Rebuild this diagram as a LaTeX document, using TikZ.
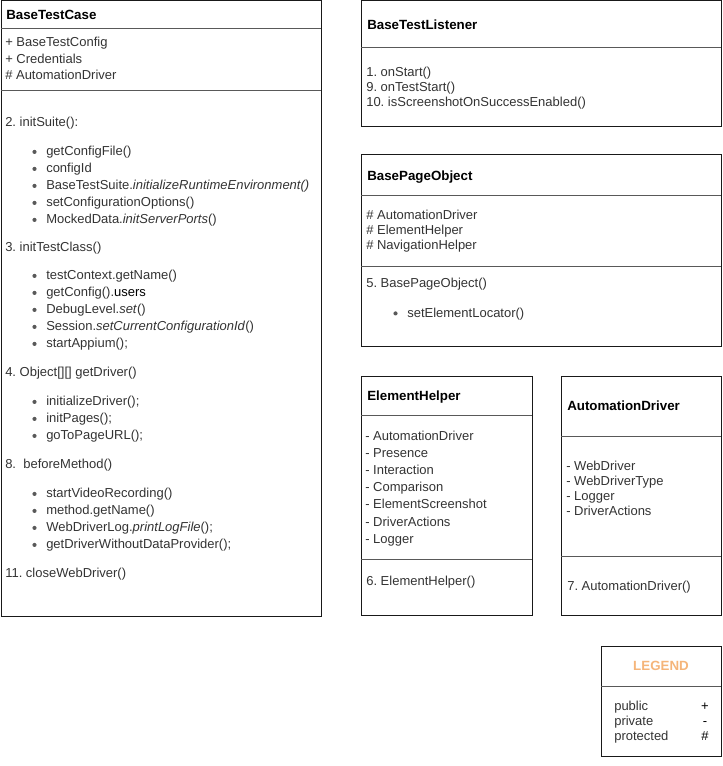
\documentclass[tikz,border=0pt]{standalone}
\usepackage{fontspec}
\setmainfont{Liberation Sans}
\usepackage{tikz}
\usetikzlibrary{positioning}
\frenchspacing
\definecolor{legendorange}{HTML}{F5B57A}
\tikzstyle{classbox}=[draw, line width=0.75pt, color=black!90]
\tikzstyle{divider}=[draw, line width=0.6pt, color=black!65]
\tikzstyle{title}=[anchor=base west, inner sep=0pt, font=\bfseries]
\tikzstyle{member}=[anchor=base west, inner sep=0pt, text=black!80]
\tikzstyle{bulletdot}=[circle, fill=black!65, inner sep=0pt, minimum size=3.1pt]
\newcommand{\cls}[2]{node (#1)[title]{#2}}
\newcommand{\mbr}[2]{node (#1)[member]{#2}}
\newcommand{\itm}[2]{node (#1)[member]{#2} +(-11.5,-3.6) node (#1d)[bulletdot]{}}

\begin{document}
\begin{tikzpicture}[x=0.75pt,y=-0.75pt,font=\fontsize{9.75pt}{11.7pt}\selectfont]
		\useasboundingbox (0,0) rectangle (723,766);
		
		% Draw class boxes
		\draw[classbox] (1,1) rectangle (321,616);
		\draw[divider] (1,28) -- (321,28);
		\draw[divider] (1,90) -- (321,90);
		
		\draw[classbox] (361,1) rectangle (721,127);
		\draw[divider] (361,47) -- (721,47);
		
		\draw[classbox] (361,155) rectangle (721,346);
		\draw[divider] (361,195) -- (721,195);
		\draw[divider] (361,266) -- (721,266);
		
		\draw[classbox] (361,376) rectangle (532,615);
		\draw[divider] (361,415) -- (532,415);
		\draw[divider] (361,559) -- (532,559);
		
		\draw[classbox] (561,376) rectangle (721,615);
		\draw[divider] (561,436) -- (721,436);
		\draw[divider] (561,556) -- (721,556);
		
		\draw[classbox] (601,646) rectangle (721,756);
		\draw[divider] (601,686) -- (721,686);
		
		% BaseTestCase
		\path (6,19.5) \cls{tc}{BaseTestCase};
		\path (5,46.7) \mbr{tc1}{+ BaseTestConfig};
		\path (5,63.3) \mbr{tc2}{+ Credentials};
		\path (5,80) \mbr{tc3}{\# AutomationDriver};
		
		\path (5,126.5) \mbr{s2}{2. initSuite():};
		\path (46,155.5) \itm{s2a}{getConfigFile()};
		\path (46,172.5) \itm{s2b}{configId};
		\path (46,189.5) \itm{s2c}{BaseTestSuite.\textit{initializeRuntimeEnvironment()}};
		\path (46,206.5) \itm{s2d}{setConfigurationOptions()};
		\path (46,223.5) \itm{s2e}{MockedData.\textit{initServerPorts}()};
		
		\path (5,251.5) \mbr{s3}{3. initTestClass()};
		\path (46,279.5) \itm{s3a}{testContext.getName()};
		\path (46,296.5) \itm{s3b}{getConfig().\textcolor{black}{users}};
		\path (46,313.5) \itm{s3c}{DebugLevel.\textit{set}()};
		\path (46,330.5) \itm{s3d}{Session.\textit{setCurrentConfigurationId}()};
		\path (46,347.5) \itm{s3e}{startAppium();};
		
		\path (5,376.5) \mbr{s4}{4. Object[][] getDriver()};
		\path (46,405.5) \itm{s4a}{initializeDriver();};
		\path (46,422.5) \itm{s4b}{initPages();};
		\path (46,439.5) \itm{s4c}{goToPageURL();};
		
		\path (5,468.5) \mbr{s8}{8.\ \ beforeMethod()};
		\path (46,497.5) \itm{s8a}{startVideoRecording()};
		\path (46,514.5) \itm{s8b}{method.getName()};
		\path (46,531.5) \itm{s8c}{WebDriverLog.\textit{printLogFile}();};
		\path (46,548.5) \itm{s8d}{getDriverWithoutDataProvider();};
		
		\path (5,577.5) \mbr{s11}{11. closeWebDriver()};
		
		% BaseTestListener
		\path (367,29.5) \cls{tl}{BaseTestListener};
		\path (366,76.5) \mbr{tl1}{1. onStart()};
		\path (366,91.5) \mbr{tl2}{9. onTestStart()};
		\path (366,106.5) \mbr{tl3}{10. isScreenshotOnSuccessEnabled()};
		
		% BasePageObject
		\path (367,180.5) \cls{po}{BasePageObject};
		\path (366,219.5) \mbr{po1}{\# AutomationDriver};
		\path (366,234.5) \mbr{po2}{\# ElementHelper};
		\path (366,249.5) \mbr{po3}{\# NavigationHelper};
		\path (366,287) \mbr{po4}{5. BasePageObject()};
		\path (407,317) \itm{po4a}{setElementLocator()};
		
		% ElementHelper
		\path (367,400.5) \cls{eh}{ElementHelper};
		\path (365,440) \mbr{eh1}{- AutomationDriver};
		\path (365,457.2) \mbr{eh2}{- Presence};
		\path (365,474.4) \mbr{eh3}{- Interaction};
		\path (365,491.6) \mbr{eh4}{- Comparison};
		\path (365,508.8) \mbr{eh5}{- ElementScreenshot};
		\path (365,526) \mbr{eh6}{- DriverActions};
		\path (365,543.2) \mbr{eh7}{- Logger};
		\path (366,585) \mbr{eh8}{6. ElementHelper()};
		
		% AutomationDriver
		\path (567,410.5) \cls{ad}{AutomationDriver};
		\path (566,470.5) \mbr{ad1}{- WebDriver};
		\path (566,485.5) \mbr{ad2}{- WebDriverType};
		\path (566,500.5) \mbr{ad3}{- Logger};
		\path (566,515.5) \mbr{ad4}{- DriverActions};
		\path (567,590) \mbr{ad5}{7. AutomationDriver()};
		
		% Legend
		\node (lg) [anchor=base, inner sep=0pt, font=\bfseries, text=legendorange] at (661,670.5) {LEGEND};
		\path (614,710.5) \mbr{lg1}{public};
		\path (614,725.5) \mbr{lg2}{private};
		\path (614,740.5) \mbr{lg3}{protected};
		\node (lg1s) [anchor=base, inner sep=0pt] at (705,710.5) {+};
		\node (lg2s) [anchor=base, inner sep=0pt] at (705,725.5) {-};
		\node (lg3s) [anchor=base, inner sep=0pt] at (705,740.5) {\#};
		\end{tikzpicture}
\end{document}
